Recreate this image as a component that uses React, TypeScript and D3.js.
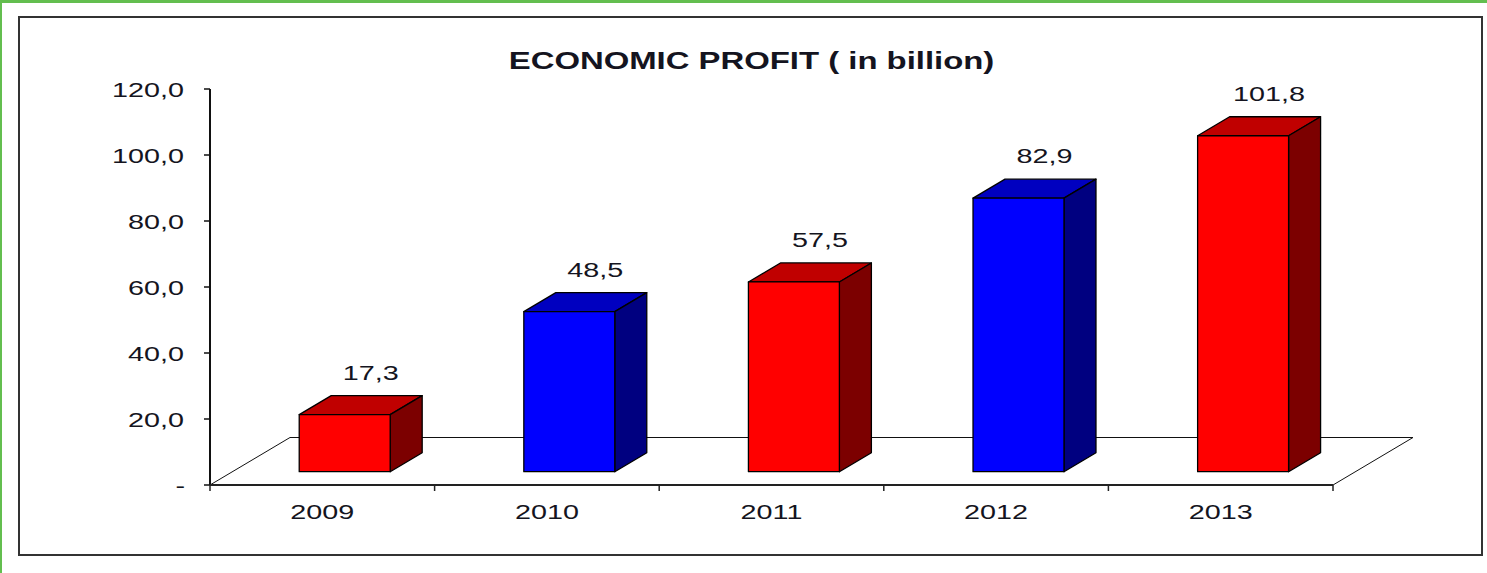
import React from "react";
import * as d3 from "d3";

const categories = ["2009", "2010", "2011", "2012", "2013"];
const profits = [17.3, 48.5, 57.5, 82.9, 101.8];
const yTicks = [0, 20, 40, 60, 80, 100, 120];
const chartTitle = "ECONOMIC PROFIT ( in billion)";

const W = 1487;
const H = 573;
const SX = 1.37; // horizontal text stretch of the original image
const FONT = "'Liberation Sans', Arial, sans-serif";
const TEXT = "#141420";

const redFaces = { front: "#ff0000", top: "#c00000", side: "#7c0000" };
const blueFaces = { front: "#0000ff", top: "#0000c0", side: "#000080" };

const fmt = (v: number) => (v === 0 ? "-" : d3.format(".1f")(v).replace(".", ","));

function T({ x, y, anchor = "middle", size = 21, weight = "normal", children }: any) {
  return (
    <text
      transform={`translate(${x},${y}) scale(${SX},1)`}
      textAnchor={anchor}
      fontFamily={FONT}
      fontSize={size}
      fontWeight={weight}
      fill={TEXT}
    >
      {children}
    </text>
  );
}

export default function App() {
  const x = d3.scaleBand<string>().domain(categories).range([210, 1333]).padding(0);
  const y = d3.scaleLinear().domain([0, 120]).range([485, 89]);
  const bw = x.bandwidth();
  const barW = bw * 0.405;
  const D = { x: 80, y: -47.5 };
  const f0 = 0.28;
  const f1 = 0.68;
  const dx = D.x * (f1 - f0);
  const dy = D.y * (f1 - f0);
  const y0 = y(0);
  const xL = 210;
  const xR = 1333;

  return (
    <div style={{ position: "absolute", left: 0, top: 0 }}>
      <svg width={W} height={H} style={{ display: "block", background: "#fff" }}>
        {/* green outer border */}
        <rect x={0} y={0} width={W} height={3} fill="#63be4f" />
        <rect x={0} y={0} width={2} height={H} fill="#63be4f" />
        {/* chart frame */}
        <rect x={19} y={17} width={1463} height={538} fill="none" stroke="#333" strokeWidth={2} />

        <T x={751.5} y={69} size={24} weight="bold">{chartTitle}</T>

        {/* floor */}
        <g stroke="#111" strokeWidth={1} fill="none">
          <line x1={xL} y1={y0} x2={xL + D.x} y2={y0 + D.y} />
          <line x1={xL + D.x} y1={y0 + D.y} x2={xR + D.x} y2={y0 + D.y} />
          <line x1={xR} y1={y0} x2={xR + D.x} y2={y0 + D.y} />
        </g>

        {/* bars */}
        {categories.map((c, i) => {
          const v = profits[i];
          const col = i % 2 === 0 ? redFaces : blueFaces;
          const bx = (x(c) as number) + (bw - barW) / 2 + D.x * f0;
          const by = y0 + D.y * f0;
          const h = y0 - y(v);
          const ty = by - h;
          const topPts = [
            [bx, ty],
            [bx + barW, ty],
            [bx + barW + dx, ty + dy],
            [bx + dx, ty + dy],
          ];
          const sidePts = [
            [bx + barW, ty],
            [bx + barW + dx, ty + dy],
            [bx + barW + dx, by + dy],
            [bx + barW, by],
          ];
          return (
            <g key={c} stroke="#000" strokeWidth={1.3} strokeLinejoin="round">
              <polygon points={topPts.map((p) => p.join(",")).join(" ")} fill={col.top} />
              <polygon points={sidePts.map((p) => p.join(",")).join(" ")} fill={col.side} />
              <rect x={bx} y={ty} width={barW} height={h} fill={col.front} />
            </g>
          );
        })}

        {/* value labels */}
        {categories.map((c, i) => {
          const v = profits[i];
          const bx = (x(c) as number) + (bw - barW) / 2 + D.x * f0;
          const by = y0 + D.y * f0;
          const ty = by - (y0 - y(v)) + dy;
          return (
            <T key={c} x={bx + barW / 2 + 26} y={ty - 16}>
              {fmt(v)}
            </T>
          );
        })}

        {/* y axis */}
        <line x1={xL} y1={y(120)} x2={xL} y2={y0} stroke="#111" strokeWidth={2} />
        {yTicks.map((t) => (
          <g key={t}>
            <line x1={xL - 6} y1={y(t)} x2={xL} y2={y(t)} stroke="#111" strokeWidth={1.5} />
            <T x={t === 0 ? 185 : 184} y={y(t) + 7.5} anchor="end">
              {fmt(t)}
            </T>
          </g>
        ))}

        {/* x axis */}
        <line x1={xL} y1={y0} x2={xR} y2={y0} stroke="#222" strokeWidth={2} />
        {[...categories.map((c) => x(c) as number), xR].map((px, i) => (
          <line key={i} x1={px} y1={y0} x2={px} y2={y0 + 6} stroke="#222" strokeWidth={1.5} />
        ))}
        {categories.map((c) => (
          <T key={c} x={(x(c) as number) + bw / 2} y={519}>
            {c}
          </T>
        ))}
      </svg>
    </div>
  );
}
